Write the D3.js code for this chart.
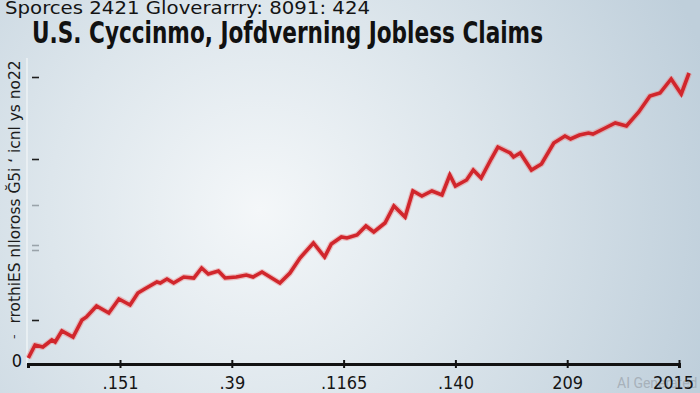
<!DOCTYPE html>
<html>
<head>
<meta charset="utf-8">
<script src="https://cdn.jsdelivr.net/npm/d3@7"></script>
<style>
  html, body { margin: 0; padding: 0; background: #d6e0e8; }
  svg { display: block; }
  .cond { font-family: "Liberation Sans Narrow", "DejaVu Sans Condensed", "Roboto Condensed", Arial, sans-serif; }
</style>
</head>
<body>
<svg id="chart" width="700" height="393"></svg>
<script>
// data
const periods = [0.18, 0.24, 0.31, 0.39, 0.42, 0.48, 0.58, 0.66, 0.70, 0.79, 0.90, 0.99,
  1.09, 1.16, 1.22, 1.33, 1.36, 1.42, 1.48, 1.57, 1.66, 1.73, 1.79, 1.88, 1.94,
  2.04, 2.13, 2.19, 2.27, 2.43, 2.52, 2.61, 2.73, 2.83, 2.89, 2.98,
  3.03, 3.12, 3.20, 3.27, 3.37, 3.45, 3.55, 3.62, 3.70, 3.79, 3.88, 3.95, 4.00,
  4.10, 4.16, 4.23, 4.32, 4.38, 4.49, 4.52, 4.58, 4.68, 4.77, 4.88, 4.98,
  5.03, 5.11, 5.19, 5.23, 5.34, 5.43, 5.53, 5.64, 5.74, 5.83, 5.93, 6.02, 6.09];
const claims = [6, 19, 17, 24, 22, 33, 27, 44, 47, 58, 51, 65,
  59, 71, 75, 82, 81, 85, 81, 87, 86, 96, 90, 93, 86,
  87, 89, 87, 92, 81, 91, 106, 121, 107, 120, 127,
  126, 129, 138, 132, 141, 158, 147, 173, 168, 173, 169, 189, 178,
  184, 194, 186, 205, 217, 211, 207, 211, 194, 200, 221, 228,
  225, 229, 231, 230, 236, 241, 238, 252, 268, 271, 285, 270, 291];

const xTickValues = [1, 2, 3, 4, 5, 6];
const xTickLabels = [".151", ".39", ".1165", ".140", "209", "2015"];
const yTickValues = [44, 114, 119, 159, 205, 287];
const yFaintTicks = [114, 119, 159];

const title = "U.S. Cyccinmo, Jofdverning Jobless Claims";
const subtitle = "Sporces 2421 Gloverarrry: 8091: 424";
const yLabel = "rrothiES nlloross Ğ5i  ʻ  icnl ys  no22";

const W = 700, H = 393;
const svg = d3.select("#chart");

// background
const defs = svg.append("defs");
const grad = defs.append("radialGradient")
  .attr("id", "bg")
  .attr("gradientUnits", "userSpaceOnUse")
  .attr("cx", 260).attr("cy", 210).attr("r", 470);
grad.append("stop").attr("offset", "0%").attr("stop-color", "#f4f7f9");
grad.append("stop").attr("offset", "45%").attr("stop-color", "#dde6ec");
grad.append("stop").attr("offset", "100%").attr("stop-color", "#bfcfdb");
svg.append("rect").attr("width", W).attr("height", H).attr("fill", "url(#bg)");

// scales
const x = d3.scaleLinear().domain([0.177, 6]).range([28, 679]);
const y = d3.scaleLinear().domain([0, 300]).range([364, 64]);

// faint y axis line
svg.append("line")
  .attr("x1", 27).attr("x2", 27)
  .attr("y1", 58).attr("y2", 364)
  .attr("stroke", "#eef3f6").attr("stroke-width", 1.5);

// y ticks
const yAxis = svg.append("g")
  .attr("transform", "translate(39,0)")
  .call(d3.axisLeft(y).tickValues(yTickValues).tickSize(7).tickFormat(""));
yAxis.select(".domain").remove();
yAxis.selectAll(".tick line")
  .attr("stroke", d => yFaintTicks.includes(d) ? "#9aa3aa" : "#1e1e1e")
  .attr("stroke-width", 1.6);

// y label
svg.append("text")
  .attr("class", "cond")
  .attr("transform", `translate(20,${y(0) - 172}) rotate(-90)`)
  .attr("text-anchor", "middle")
  .attr("font-size", 15)
  .attr("fill", "#1c1c1c")
  .attr("textLength", 263)
  .attr("lengthAdjust", "spacingAndGlyphs")
  .text(yLabel);
svg.append("text")
  .attr("class", "cond")
  .attr("x", 13).attr("y", y(0) - 20)
  .attr("font-size", 12)
  .attr("fill", "#1c1c1c")
  .text("'");

svg.append("text")
  .attr("class", "cond")
  .attr("x", 17).attr("y", y(0) + 3)
  .attr("text-anchor", "middle")
  .attr("font-size", 18)
  .attr("fill", "#111")
  .text("0");

// watermark
svg.append("text")
  .attr("x", 617).attr("y", 388)
  .attr("font-family", "Roboto, Arial, sans-serif")
  .attr("font-size", 14)
  .attr("fill", "#a7b1ba")
  .text("AI Generated");

// x axis
const xAxis = svg.append("g")
  .attr("transform", `translate(0,${y(0)})`)
  .call(d3.axisBottom(x)
    .tickValues(xTickValues)
    .tickSizeOuter(0)
    .tickSize(4)
    .tickPadding(8)
    .tickFormat((d, i) => xTickLabels[i]));
xAxis.select(".domain").attr("stroke", "#121212").attr("stroke-width", 3);
xAxis.selectAll(".tick line")
  .attr("y1", -4).attr("y2", 4)
  .attr("stroke", "#121212").attr("stroke-width", 2);
xAxis.selectAll(".tick text")
  .attr("class", "cond")
  .attr("font-size", 18)
  .attr("fill", "#151515")
  .attr("dx", (d, i) => i === xTickLabels.length - 1 ? -6 : 0);

// line
const series = periods.map((p, i) => ({ p, v: claims[i] }));
const line = d3.line().x(d => x(d.p)).y(d => y(d.v));
svg.append("path")
  .datum(series)
  .attr("d", line)
  .attr("fill", "none")
  .attr("stroke", "#e88080")
  .attr("stroke-opacity", 0.45)
  .attr("stroke-width", 6)
  .attr("stroke-linejoin", "round");
svg.append("path")
  .datum(series)
  .attr("d", line)
  .attr("fill", "none")
  .attr("stroke", "#d1262c")
  .attr("stroke-width", 3.6)
  .attr("stroke-linejoin", "miter");

// titles
svg.append("text")
  .attr("class", "cond")
  .attr("x", 5).attr("y", 14)
  .attr("font-size", 18)
  .attr("fill", "#141414")
  .attr("textLength", 365)
  .attr("lengthAdjust", "spacingAndGlyphs")
  .text(subtitle);
svg.append("text")
  .attr("class", "cond")
  .attr("x", 32).attr("y", 43)
  .attr("font-size", 31)
  .attr("font-weight", "bold")
  .attr("fill", "#111")
  .attr("textLength", 511)
  .attr("lengthAdjust", "spacingAndGlyphs")
  .text(title);
</script>
</body>
</html>
